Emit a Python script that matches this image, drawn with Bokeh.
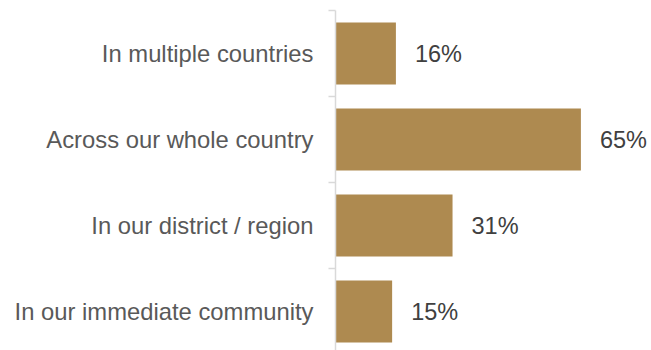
from bokeh.plotting import figure
from bokeh.models import Range1d, FixedTicker, ColumnDataSource
from bokeh.embed import file_html
from bokeh.resources import INLINE
from bokeh.core.properties import value

categories = ["In our immediate community", "In our district / region",
              "Across our whole country", "In multiple countries"]
values = [15, 31, 65, 16]
labels = [f"{v}%" for v in values]
positions = list(range(len(categories)))

src = ColumnDataSource(dict(y=positions, v=values, lab=labels))

p = figure(width=651, height=350, output_backend="svg", toolbar_location=None,
           x_range=Range1d(0, 83.7), y_range=Range1d(-0.453, 3.5),
           min_border_left=335, min_border_right=0, min_border_top=10,
           min_border_bottom=0)
p.outline_line_color = None
p.xgrid.visible = False
p.ygrid.visible = False
p.xaxis.visible = False
p.background_fill_color = "white"
p.border_fill_color = "white"

p.hbar(y="y", right="v", left=0, height=0.72, source=src,
       fill_color="#AE8A50", line_color=None)
p.text(x="v", y="y", text="lab", source=src, x_offset=19,
       text_align="left", text_baseline="middle",
       text_font=value("Liberation Sans"), text_font_size="23.5px",
       text_color="#404040")

ax = p.yaxis[0]
ax.ticker = FixedTicker(ticks=positions,
                        minor_ticks=[i - 0.5 for i in range(len(categories) + 1)])
ax.major_label_overrides = {i: c for i, c in enumerate(categories)}
ax.major_tick_line_color = None
ax.major_tick_out = 0
ax.major_tick_in = 0
ax.minor_tick_out = 7
ax.minor_tick_in = 0
ax.minor_tick_line_color = "#D9D9D9"
ax.minor_tick_line_width = 1.5
ax.axis_line_color = "#D9D9D9"
ax.axis_line_width = 1.5
ax.major_label_standoff = 15
ax.major_label_text_font = "Liberation Sans"
ax.major_label_text_font_size = "23.8px"
ax.major_label_text_color = "#595959"

open("out.html", "w").write(file_html(p, INLINE))
